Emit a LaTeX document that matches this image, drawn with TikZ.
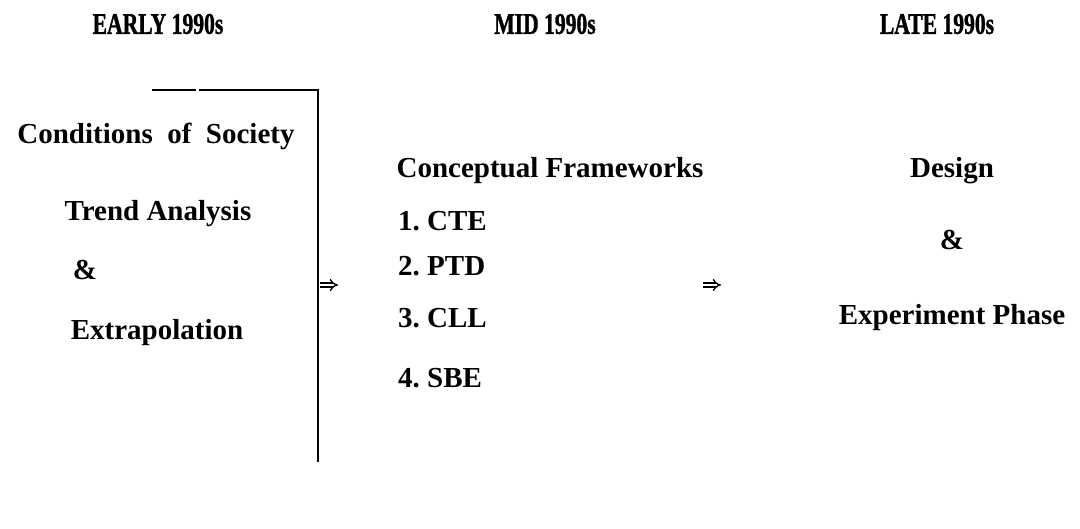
\documentclass[tikz,border=0pt]{standalone}
\usepackage{fontspec}
\setmainfont{Liberation Serif}
\newfontfamily\headfont[FakeStretch=0.72,FakeBold=1.2]{Liberation Serif Bold}
\usetikzlibrary{arrows.meta}
\tikzset{
  hdr/.style={font=\headfont\fontsize{30}{34}\selectfont, inner sep=0pt},
  lbl/.style={font=\fontsize{29}{33}\selectfont\bfseries, inner sep=0pt},
  item/.style={lbl, anchor=west},
  bar/.style={line width=2pt},
  flow/.style={double, double distance=2.6pt, line width=1.4pt, -{Implies}},
}
\begin{document}
\begin{tikzpicture}[x=1pt, y=-1pt]
  \useasboundingbox (0,0) rectangle (1080,529);
  % Cabeceras de los periodos
  \node[hdr] (early) at (158,24) {EARLY 1990s};
  \node[hdr] (mid)   at (545,24) {MID 1990s};
  \node[hdr] (late)  at (937,24) {LATE 1990s};
  % Columna izquierda
  \node[lbl] (society) at (156,136) {Conditions\ \ of\ \ Society};
  \node[lbl] (trend)   at (158,214) {Trend Analysis};
  \node[lbl] (andl)    at (85,270)  {\&};
  \node[lbl] (extra)   at (157,333) {Extrapolation};
  % Corchete de la columna izquierda
  \coordinate (bartop) at (318,90);
  \coordinate (barbot) at (318,462);
  \draw[bar] (152,90) -- (196,90);
  \draw[bar] (199,90) -- (bartop) -- (barbot);
  % Columna central
  \node[lbl] (frame) at (550,171) {Conceptual Frameworks};
  \node[item] (cte) at (398,221) {1.\ CTE};
  \node[item] (ptd) at (398,266) {2.\ PTD};
  \node[item] (cll) at (398,318) {3.\ CLL};
  \node[item] (sbe) at (398,378) {4.\ SBE};
  % Columna derecha
  \node[lbl] (design) at (952,171) {Design};
  \node[lbl] (andr)   at (952,240) {\&};
  \node[lbl] (phase)  at (952,318) {Experiment Phase};
  % Flechas entre columnas
  \coordinate (a1) at (320,285);
  \coordinate (a2) at (338,285);
  \coordinate (b1) at (703,285);
  \coordinate (b2) at (721,285);
  \draw[flow] (a1) -- (a2);
  \draw[flow] (b1) -- (b2);
\end{tikzpicture}
\end{document}
